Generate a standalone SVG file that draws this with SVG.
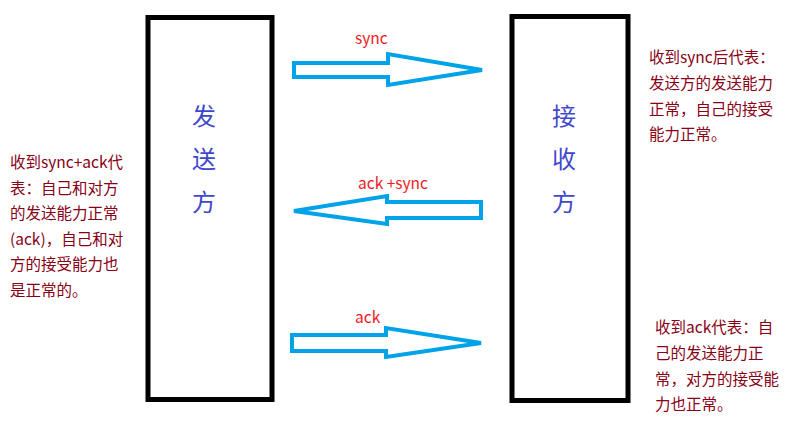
<svg xmlns="http://www.w3.org/2000/svg" width="790" height="436" viewBox="0 0 790 436">
<style>
.box{fill:#fff;stroke:#000;stroke-width:5}
.name{font-family:"Noto Sans CJK SC",sans-serif;font-size:24px;fill:#3f48cc;text-anchor:middle}
.arrow{fill:#fff;stroke:#00a2e8;stroke-width:4;stroke-linejoin:miter}
.lbl{font-family:"Noto Sans CJK SC",sans-serif;font-size:15.5px;fill:#ed1c24}
.note{font-family:"Noto Sans CJK SC",sans-serif;font-size:15.5px;fill:#880015}
</style>
<rect width="790" height="436" fill="#fff"/>
<g id="sender">
<rect class="box" x="148" y="17.5" width="124" height="382"/>
<text class="name" x="204" y="125">发</text>
<text class="name" x="204" y="168">送</text>
<text class="name" x="204" y="211">方</text>
</g>
<g id="receiver">
<rect class="box" x="512" y="16.5" width="116" height="384"/>
<text class="name" x="564" y="125">接</text>
<text class="name" x="564" y="168">收</text>
<text class="name" x="564" y="211">方</text>
</g>
<g id="connectors">
<polygon class="arrow" points="294,63 388,63 388,54 482,70 388,85 388,77 294,77"/>
<text class="lbl" x="355" y="44">sync</text>
<polygon class="arrow" points="481,202 387,202 387,196 294,211 387,224 387,218 481,218"/>
<text class="lbl" x="358" y="189" xml:space="preserve">ack +sync</text>
<polygon class="arrow" points="292,335 386,335 386,328 481,343 386,357 386,351 292,351"/>
<text class="lbl" x="355" y="323">ack</text>
</g>
<g id="note-left" class="note">
<text x="10" y="168">收到sync+ack代</text>
<text x="10" y="194">表：自己和对方</text>
<text x="10" y="219">的发送能力正常</text>
<text x="10" y="245">(ack)，自己和对</text>
<text x="10" y="270">方的接受能力也</text>
<text x="10" y="296">是正常的。</text>
</g>
<g id="note-right-top" class="note">
<text x="649" y="63">收到sync后代表：</text>
<text x="649" y="89">发送方的发送能力</text>
<text x="649" y="115">正常，自己的接受</text>
<text x="649" y="140">能力正常。</text>
</g>
<g id="note-right-bottom" class="note">
<text x="655" y="333">收到ack代表：自</text>
<text x="655" y="359">己的发送能力正</text>
<text x="655" y="385">常，对方的接受能</text>
<text x="655" y="410">力也正常。</text>
</g>
</svg>
